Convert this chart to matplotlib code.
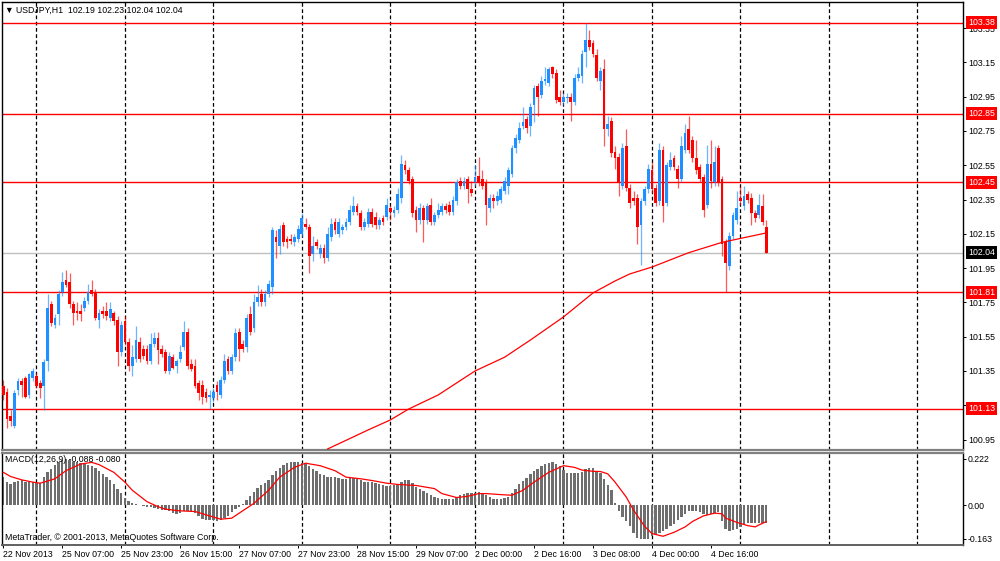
import numpy as np
import matplotlib
matplotlib.use("Agg")
import matplotlib.pyplot as plt
import matplotlib.transforms as mtransforms

plt.rcParams['font.family'] = ['Liberation Sans', 'DejaVu Sans']

# USDJPY H1 candles (bar 0 = 22 Nov 15:00)
opens = [
    101.26, 101.23, 101.09, 101.03, 101.24, 101.29, 101.31, 101.21, 101.31, 101.32,
    101.28, 101.26, 101.41, 101.74, 101.62, 101.68, 101.81, 101.88, 101.87, 101.74,
    101.70, 101.70, 101.72, 101.76, 101.82, 101.81, 101.65, 101.70, 101.70, 101.66,
    101.69, 101.65, 101.46, 101.64, 101.52, 101.38, 101.42, 101.52, 101.48, 101.48,
    101.41, 101.51, 101.54, 101.48, 101.46, 101.35, 101.43, 101.38, 101.42, 101.49,
    101.58, 101.39, 101.38, 101.28, 101.27, 101.23, 101.20, 101.19, 101.27, 101.21,
    101.30, 101.42, 101.35, 101.43, 101.58, 101.51, 101.49, 101.68, 101.60, 101.75,
    101.80, 101.75, 101.80, 101.84, 102.13, 102.08, 102.20, 102.12, 102.12, 102.10,
    102.12, 102.15, 102.21, 102.19, 102.03, 102.10, 102.03, 102.07, 102.01, 102.13,
    102.22, 102.15, 102.17, 102.19, 102.22, 102.28, 102.31, 102.27, 102.19, 102.21,
    102.28, 102.25, 102.20, 102.24, 102.25, 102.30, 102.27, 102.29, 102.36, 102.55,
    102.52, 102.47, 102.29, 102.23, 102.30, 102.23, 102.32, 102.22, 102.26, 102.28,
    102.31, 102.32, 102.28, 102.34, 102.46, 102.43, 102.47, 102.41, 102.45, 102.49,
    102.47, 102.45, 102.30, 102.36, 102.34, 102.35, 102.40, 102.43, 102.50, 102.65,
    102.70, 102.78, 102.82, 102.78, 102.90, 103.01, 102.96, 103.04, 103.03, 103.12,
    103.09, 102.95, 102.92, 102.94, 102.95, 102.92, 103.06, 103.07, 103.21, 103.28,
    103.26, 103.19, 103.04, 103.11, 102.76, 102.81, 102.63, 102.60, 102.43, 102.66,
    102.42, 102.36, 102.36, 102.20, 102.34, 102.41, 102.52, 102.42, 102.34, 102.64,
    102.33, 102.54, 102.59, 102.53, 102.47, 102.64, 102.76, 102.70, 102.59, 102.54,
    102.48, 102.32, 102.56, 102.45, 102.65, 102.47, 102.10, 101.96, 102.14, 102.23,
    102.36, 102.31, 102.38, 102.36, 102.27, 102.26, 102.31, 102.19,
]
highs = [
    101.30, 101.25, 101.12, 101.24, 101.31, 101.31, 101.32, 101.34, 101.37, 101.34,
    101.30, 101.42, 101.80, 101.76, 101.68, 101.82, 101.93, 101.94, 101.92, 101.76,
    101.75, 101.74, 101.78, 101.86, 101.88, 101.83, 101.71, 101.73, 101.75, 101.75,
    101.70, 101.67, 101.64, 101.67, 101.54, 101.50, 101.61, 101.55, 101.50, 101.50,
    101.57, 101.58, 101.58, 101.50, 101.48, 101.46, 101.45, 101.42, 101.50, 101.64,
    101.60, 101.42, 101.42, 101.30, 101.30, 101.25, 101.24, 101.25, 101.29, 101.32,
    101.45, 101.44, 101.45, 101.60, 101.60, 101.53, 101.68, 101.73, 101.80, 101.85,
    101.83, 101.82, 101.88, 102.19, 102.17, 102.20, 102.22, 102.14, 102.15, 102.15,
    102.20, 102.27, 102.24, 102.21, 102.14, 102.12, 102.09, 102.09, 102.19, 102.24,
    102.24, 102.24, 102.21, 102.24, 102.32, 102.37, 102.33, 102.29, 102.24, 102.30,
    102.30, 102.28, 102.25, 102.26, 102.36, 102.32, 102.31, 102.42, 102.61, 102.58,
    102.54, 102.49, 102.31, 102.33, 102.32, 102.33, 102.36, 102.28, 102.33, 102.33,
    102.33, 102.34, 102.37, 102.47, 102.48, 102.48, 102.49, 102.46, 102.55, 102.60,
    102.52, 102.47, 102.38, 102.38, 102.40, 102.43, 102.48, 102.54, 102.67, 102.73,
    102.80, 102.89, 102.84, 102.91, 103.02, 103.03, 103.07, 103.12, 103.12, 103.13,
    103.11, 102.99, 102.97, 102.97, 102.97, 103.08, 103.12, 103.22, 103.38, 103.34,
    103.28, 103.23, 103.12, 103.17, 102.84, 102.83, 102.66, 102.62, 102.68, 102.76,
    102.44, 102.40, 102.38, 102.36, 102.43, 102.56, 102.57, 102.44, 102.68, 102.66,
    102.57, 102.63, 102.61, 102.55, 102.72, 102.79, 102.84, 102.72, 102.70, 102.56,
    102.50, 102.67, 102.70, 102.66, 102.67, 102.49, 102.12, 102.16, 102.28, 102.40,
    102.43, 102.43, 102.40, 102.39, 102.29, 102.38, 102.38, 102.23,
]
lows = [
    101.18, 101.02, 101.03, 101.02, 101.21, 101.20, 101.19, 101.19, 101.29, 101.25,
    101.19, 101.12, 101.35, 101.61, 101.60, 101.62, 101.79, 101.84, 101.72, 101.62,
    101.65, 101.64, 101.70, 101.74, 101.79, 101.65, 101.60, 101.66, 101.65, 101.64,
    101.62, 101.38, 101.44, 101.50, 101.35, 101.32, 101.40, 101.40, 101.42, 101.39,
    101.39, 101.49, 101.39, 101.43, 101.34, 101.33, 101.36, 101.34, 101.40, 101.47,
    101.36, 101.35, 101.25, 101.18, 101.16, 101.17, 101.13, 101.17, 101.18, 101.19,
    101.28, 101.33, 101.33, 101.41, 101.41, 101.46, 101.46, 101.56, 101.58, 101.73,
    101.73, 101.73, 101.78, 101.80, 102.01, 102.03, 102.08, 102.07, 102.09, 102.08,
    102.10, 102.13, 102.18, 101.92, 101.99, 102.06, 102.01, 101.98, 101.99, 102.11,
    102.15, 102.13, 102.15, 102.17, 102.20, 102.26, 102.26, 102.17, 102.17, 102.19,
    102.19, 102.18, 102.18, 102.20, 102.23, 102.23, 102.25, 102.27, 102.33, 102.50,
    102.44, 102.25, 102.16, 102.21, 102.10, 102.21, 102.20, 102.20, 102.24, 102.26,
    102.27, 102.26, 102.26, 102.32, 102.41, 102.41, 102.33, 102.37, 102.43, 102.43,
    102.41, 102.20, 102.28, 102.30, 102.32, 102.33, 102.38, 102.38, 102.48, 102.62,
    102.68, 102.76, 102.74, 102.72, 102.80, 102.84, 102.94, 103.02, 103.01, 103.06,
    102.91, 102.90, 102.90, 102.91, 102.81, 102.90, 103.04, 103.03, 103.12, 103.22,
    103.18, 103.04, 102.99, 102.66, 102.72, 102.60, 102.53, 102.37, 102.41, 102.40,
    102.30, 102.32, 102.09, 101.97, 102.32, 102.39, 102.39, 102.31, 102.32, 102.22,
    102.31, 102.52, 102.52, 102.42, 102.45, 102.62, 102.62, 102.57, 102.50, 102.45,
    102.25, 102.30, 102.42, 102.43, 102.43, 102.02, 101.81, 101.94, 102.12, 102.21,
    102.32, 102.29, 102.33, 102.20, 102.22, 102.24, 102.20, 102.04,
]
closes = [
    101.21, 101.07, 101.06, 101.22, 101.29, 101.27, 101.20, 101.33, 101.35, 101.26,
    101.25, 101.40, 101.72, 101.63, 101.66, 101.80, 101.87, 101.85, 101.74, 101.69,
    101.69, 101.68, 101.76, 101.81, 101.80, 101.66, 101.69, 101.68, 101.67, 101.71,
    101.64, 101.46, 101.62, 101.52, 101.38, 101.43, 101.53, 101.42, 101.44, 101.41,
    101.51, 101.54, 101.47, 101.45, 101.35, 101.44, 101.37, 101.41, 101.46, 101.58,
    101.38, 101.36, 101.26, 101.22, 101.20, 101.19, 101.21, 101.23, 101.23, 101.30,
    101.41, 101.35, 101.43, 101.57, 101.48, 101.48, 101.66, 101.58, 101.75, 101.78,
    101.75, 101.80, 101.86, 102.17, 102.10, 102.18, 102.10, 102.10, 102.11, 102.13,
    102.18, 102.24, 102.19, 102.02, 102.08, 102.08, 102.07, 102.01, 102.15, 102.21,
    102.17, 102.22, 102.19, 102.22, 102.29, 102.31, 102.28, 102.19, 102.22, 102.28,
    102.21, 102.20, 102.23, 102.22, 102.32, 102.28, 102.29, 102.38, 102.56, 102.52,
    102.46, 102.27, 102.23, 102.30, 102.23, 102.31, 102.22, 102.26, 102.29, 102.31,
    102.29, 102.28, 102.35, 102.45, 102.43, 102.46, 102.41, 102.39, 102.48, 102.45,
    102.43, 102.32, 102.36, 102.34, 102.37, 102.41, 102.46, 102.52, 102.65, 102.71,
    102.77, 102.80, 102.77, 102.89, 103.00, 102.95, 103.04, 103.05, 103.11, 103.08,
    102.93, 102.92, 102.95, 102.945, 102.92, 103.06, 103.08, 103.20, 103.28, 103.24,
    103.20, 103.06, 103.10, 102.76, 102.79, 102.62, 102.59, 102.45, 102.65, 102.42,
    102.33, 102.34, 102.19, 102.34, 102.41, 102.53, 102.41, 102.33, 102.64, 102.31,
    102.55, 102.58, 102.54, 102.47, 102.66, 102.74, 102.64, 102.59, 102.52, 102.47,
    102.29, 102.56, 102.46, 102.57, 102.45, 102.09, 101.98, 102.14, 102.26, 102.30,
    102.34, 102.37, 102.35, 102.27, 102.24, 102.32, 102.22, 102.04,
]

# moving average (red curve)
ma_idx = [88, 99, 105, 110, 118, 128, 136, 143, 152, 160, 166, 170, 176, 186, 195, 207]
ma_val = [100.895, 101.006, 101.064, 101.128, 101.21, 101.35, 101.43, 101.53,
          101.665, 101.805, 101.875, 101.916, 101.956, 102.04, 102.10, 102.155]

# MACD(12,26,9) histogram per bar
macd_hist = [
    0.134, 0.110, 0.102, 0.110, 0.116, 0.118, 0.113, 0.109, 0.110, 0.105,
    0.107, 0.137, 0.157, 0.173, 0.194, 0.205, 0.217, 0.220, 0.214, 0.209,
    0.209, 0.203, 0.197, 0.192, 0.187, 0.176, 0.165, 0.150, 0.137, 0.121,
    0.099, 0.079, 0.058, 0.036, 0.019, 0.011, 0.006, 0.002, -0.005, -0.008,
    -0.008, -0.013, -0.017, -0.022, -0.025, -0.030, -0.038, -0.042, -0.036, -0.031,
    -0.030, -0.033, -0.039, -0.052, -0.065, -0.071, -0.074, -0.074, -0.079, -0.071,
    -0.063, -0.052, -0.035, -0.020, -0.008, 0.005, 0.024, 0.042, 0.063, 0.082,
    0.098, 0.107, 0.121, 0.145, 0.162, 0.179, 0.194, 0.200, 0.205, 0.208,
    0.208, 0.203, 0.197, 0.187, 0.173, 0.162, 0.151, 0.145, 0.137, 0.134,
    0.134, 0.132, 0.127, 0.126, 0.131, 0.131, 0.126, 0.120, 0.110, 0.110,
    0.109, 0.104, 0.101, 0.094, 0.090, 0.090, 0.094, 0.094, 0.110, 0.118,
    0.118, 0.104, 0.087, 0.077, 0.069, 0.058, 0.046, 0.039, 0.035, 0.031,
    0.031, 0.028, 0.031, 0.038, 0.047, 0.055, 0.058, 0.058, 0.060, 0.063,
    0.058, 0.049, 0.038, 0.031, 0.031, 0.031, 0.036, 0.041, 0.058, 0.077,
    0.101, 0.115, 0.129, 0.148, 0.162, 0.175, 0.186, 0.195, 0.201, 0.208,
    0.198, 0.186, 0.170, 0.156, 0.153, 0.153, 0.154, 0.161, 0.175, 0.178,
    0.176, 0.165, 0.153, 0.127, 0.098, 0.071, 0.008, -0.031, -0.058, -0.077,
    -0.099, -0.134, -0.159, -0.164, -0.165, -0.161, -0.151, -0.143, -0.135, -0.127,
    -0.115, -0.101, -0.090, -0.072, -0.057, -0.041, -0.030, -0.027, -0.028, -0.035,
    -0.044, -0.047, -0.044, -0.036, -0.035, -0.079, -0.115, -0.126, -0.121, -0.113,
    -0.107, -0.096, -0.088, -0.088, -0.088, -0.085, -0.085, -0.088,
]
signal_idx = [0, 2, 5, 8, 10, 14, 17, 21, 24, 26, 30, 33, 35, 39, 42, 44, 48, 52,
              55, 59, 62, 64, 68, 72, 75, 79, 82, 86, 90, 93, 97, 100, 104, 107,
              112, 117, 119, 123, 126, 129, 131, 135, 138, 141, 144, 148, 152, 155,
              157, 160, 162, 164, 166, 169, 171, 174, 176, 179, 182, 185, 187, 190,
              193, 195, 196, 199, 202, 204, 205, 207]
signal_val = [0.157, 0.137, 0.121, 0.110, 0.105, 0.126, 0.165, 0.197, 0.205, 0.194,
              0.157, 0.110, 0.071, 0.016, -0.008, -0.020, -0.028, -0.031, -0.047, -0.068,
              -0.063, -0.039, 0.008, 0.071, 0.134, 0.181, 0.201, 0.189, 0.165, 0.134,
              0.126, 0.118, 0.105, 0.099, 0.094, 0.079, 0.055, 0.036, 0.042, 0.055,
              0.055, 0.050, 0.047, 0.071, 0.110, 0.157, 0.189, 0.181, 0.168, 0.162,
              0.161, 0.150, 0.110, 0.039, -0.024, -0.102, -0.137, -0.150, -0.131, -0.105,
              -0.079, -0.052, -0.039, -0.042, -0.063, -0.083, -0.099, -0.105, -0.096, -0.080]

levels = [103.38, 102.85, 102.45, 101.81, 101.13]
bid = 102.04
price_ticks = [103.35, 103.15, 102.95, 102.75, 102.55, 102.35, 102.15,
               101.95, 101.75, 101.55, 101.35, 101.15, 100.95]
macd_ticks = [0.222, 0.0, -0.163]
macd_tick_labels = ["0.222", "0.00", "-0.163"]
time_pos = [0, 16, 32, 48, 64, 80, 96, 112, 128, 144, 160, 176, 192]
time_labels = ["22 Nov 2013", "25 Nov 07:00", "25 Nov 23:00", "26 Nov 15:00",
               "27 Nov 07:00", "27 Nov 23:00", "28 Nov 15:00", "29 Nov 07:00",
               "2 Dec 00:00", "2 Dec 16:00", "3 Dec 08:00", "4 Dec 00:00", "4 Dec 16:00"]
day_grid = [9, 33, 57, 81, 105, 128, 152, 176, 200, 224, 248]

FS = 6.3
UP, DOWN = '#1E90FF', '#FF0000'

fig = plt.figure(figsize=(10, 5.61), dpi=100)
ax = fig.add_axes([0.002, 111 / 561, 0.961, 448 / 561])
axm = fig.add_axes([0.002, 16 / 561, 0.961, 92 / 561])

o = np.array(opens); h = np.array(highs); l = np.array(lows); c = np.array(closes)
x = np.arange(len(c))
cols = np.where(c >= o, UP, DOWN)

for a in (ax, axm):
    for g in day_grid:
        a.axvline(g, color='black', lw=0.9, ls=(0, (3, 2)), zorder=0)
    a.set_xlim(-0.35, 260.4)

# main price panel
for lv in levels:
    ax.axhline(lv, color='red', lw=1, zorder=1)
ax.axhline(bid, color='#c0c0c0', lw=1, zorder=1)

ax.vlines(x, l, h, colors=cols, lw=0.9, alpha=0.65, zorder=2)
ax.bar(x, np.maximum(np.abs(c - o), 0.004), bottom=np.minimum(o, c),
       width=0.75, color=cols, linewidth=0, zorder=3)
ax.plot(ma_idx, ma_val, color='red', lw=0.9, zorder=4)

ax.set_ylim(100.889, 103.502)
ax.yaxis.tick_right()
ax.set_yticks(price_ticks)
ax.set_yticklabels([f"{v:.2f}" for v in price_ticks])
ax.tick_params(axis='y', length=2.2, width=0.7, pad=1.4, labelsize=FS)
ax.set_xticks([])
for s in ax.spines.values():
    s.set_color('black'); s.set_linewidth(1)
ax.spines['bottom'].set_color('#808080'); ax.spines['bottom'].set_linewidth(1.6)

tr = mtransforms.blended_transform_factory(ax.transAxes, ax.transData)
for lv in levels:
    ax.text(1.0055, lv, f"{lv:.2f}", transform=tr, ha='left', va='center', color='white',
            fontsize=FS, zorder=6, clip_on=False,
            bbox=dict(boxstyle='square,pad=0.22', fc='red', ec='none'))
ax.text(1.0055, bid, f"{bid:.2f}", transform=tr, ha='left', va='center', color='white',
        fontsize=FS, zorder=6, clip_on=False,
        bbox=dict(boxstyle='square,pad=0.22', fc='black', ec='none'))

# MACD panel
axm.bar(x, macd_hist, width=0.65, color='#6e6e6e', linewidth=0, zorder=2)
axm.plot(signal_idx, signal_val, color='red', lw=0.9, zorder=3)
axm.set_ylim(-0.192, 0.25)
axm.yaxis.tick_right()
axm.set_yticks(macd_ticks)
axm.set_yticklabels(macd_tick_labels)
axm.tick_params(axis='y', length=2.2, width=0.7, pad=1.4, labelsize=FS)
axm.set_xticks(time_pos)
axm.set_xticklabels(time_labels)
axm.tick_params(axis='x', length=2.5, width=0.7, pad=1.0, labelsize=FS)
for lbl in axm.get_xticklabels():
    lbl.set_horizontalalignment('left')
for s in axm.spines.values():
    s.set_color('black'); s.set_linewidth(1)
axm.spines['top'].set_color('#808080'); axm.spines['top'].set_linewidth(1.6)
axm.spines['bottom'].set_color('#606060'); axm.spines['bottom'].set_linewidth(1.4)

# captions
fig.text(0.005, 1 - 10 / 561, "\u25bc USDJPY,H1  102.19 102.23 102.04 102.04",
         fontsize=FS, va='center', ha='left')
fig.text(0.005, 1 - 460 / 561, "MACD(12,26,9) -0.088 -0.080", fontsize=FS,
         va='center', ha='left')
fig.text(0.005, 1 - 537 / 561, "MetaTrader, \u00a9 2001-2013, MetaQuotes Software Corp.",
         fontsize=FS, va='center', ha='left')

fig.savefig("out.png", dpi=100)
